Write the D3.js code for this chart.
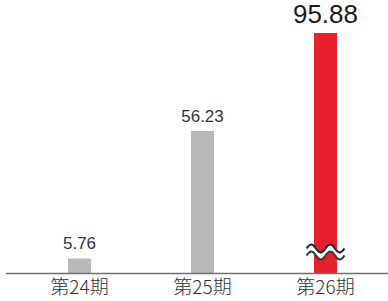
<!DOCTYPE html>
<html><head><meta charset="utf-8">
<script src="https://cdn.jsdelivr.net/npm/d3@7"></script>
<style>body{margin:0;background:#fff}svg{display:block}</style>
</head><body>
<svg id="c" width="388" height="301"></svg>
<script>
const categories = ["第24期", "第25期", "第26期"];
const values = [5.76, 56.23, 95.88];
const labels = ["5.76", "56.23", "95.88"];
const colors = ["#b8b8b8", "#b8b8b8", "#e8202b"];
const brokenIndex = 2;

const svg = d3.select("#c");
const x = d3.scaleBand().domain(categories).range([18, 387]).paddingInner(0.813).paddingOuter(0.4065);
const y = d3.scaleLinear().domain([0, 56.23]).range([273, 131]);

svg.selectAll("rect.bar").data(values).join("rect")
  .attr("class", "bar")
  .attr("x", (d, i) => x(categories[i]))
  .attr("width", x.bandwidth())
  .attr("y", d => Math.max(y(d), 33))
  .attr("height", d => 273 - Math.max(y(d), 33))
  .attr("fill", (d, i) => colors[i]);

// baseline
svg.append("line").attr("x1", 6).attr("x2", 388).attr("y1", 273.5).attr("y2", 273.5)
  .attr("stroke", "#6f6f6f").attr("stroke-width", 1.5);

// break symbol
const cx = x(categories[brokenIndex]) + x.bandwidth() / 2;
const by = 250;
function wave(off) {
  const pts = [];
  for (let t = -19; t <= 19; t += 1) {
    pts.push([cx + t, by + off - 4 * Math.sin(t / 19 * Math.PI * 2)]);
  }
  return d3.line().curve(d3.curveBasis)(pts);
}
svg.append("path").attr("d", wave(2)).attr("fill", "none").attr("stroke", "#fff").attr("stroke-width", 6);
svg.append("path").attr("d", wave(-1.5)).attr("fill", "none").attr("stroke", "#222").attr("stroke-width", 2);
svg.append("path").attr("d", wave(5.5)).attr("fill", "none").attr("stroke", "#2a3a35").attr("stroke-width", 2);

// value labels
svg.selectAll("text.val").data(values).join("text")
  .attr("class", "val")
  .attr("x", (d, i) => x(categories[i]) + x.bandwidth() / 2)
  .attr("y", (d, i) => i === brokenIndex ? 23 : y(d) - 9)
  .attr("text-anchor", "middle")
  .attr("font-family", "'Liberation Sans', Arial, sans-serif")
  .attr("font-size", (d, i) => i === brokenIndex ? 26 : 17)
  .attr("fill", (d, i) => i === brokenIndex ? "#1a1a1a" : "#333")
  .text((d, i) => labels[i]);

// category axis
const ax = svg.append("g").attr("transform", "translate(0,274)")
  .call(d3.axisBottom(x).tickSize(0).tickPadding(6));
ax.select(".domain").remove();
ax.selectAll("text").attr("font-family", "'Noto Sans CJK JP', sans-serif")
  .attr("font-size", 19).attr("font-weight", 300).attr("fill", "#333");
</script>
</body></html>
